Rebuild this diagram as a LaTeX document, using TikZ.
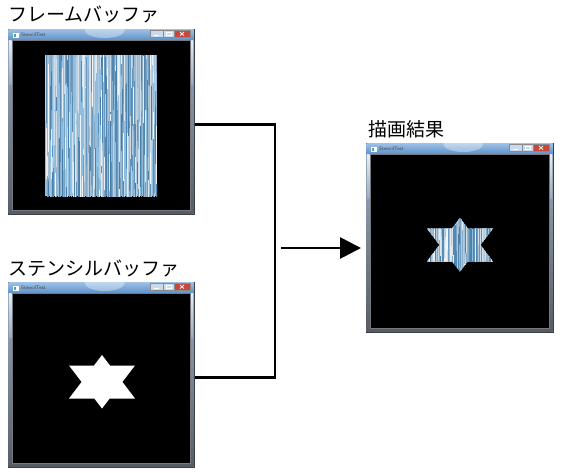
\documentclass[tikz,border=0pt]{standalone}
\usepackage{fontspec}
\newfontfamily\jpfont{Noto Sans CJK JP}
\usetikzlibrary{positioning,arrows.meta}

\definecolor{framelight}{HTML}{9DB2C8}
\definecolor{framedark}{HTML}{3A4048}
\definecolor{titletop}{HTML}{9CC0E6}
\definecolor{titlebot}{HTML}{5E91C8}
\definecolor{texbase}{HTML}{8DBEDF}
\definecolor{texdark}{HTML}{1F6398}
\definecolor{closered}{HTML}{C8463C}
\definecolor{btnblue}{HTML}{C9DAEC}

\tikzset{
  appwin/.style={draw=framedark, line width=1pt, fill=framelight, inner sep=0pt,
    minimum width=186pt, minimum height=185pt, anchor=north west},
  winlabel/.style={anchor=base west, inner sep=0pt, font=\jpfont\fontsize{19}{19}\selectfont},
  titletext/.style={anchor=west, inner sep=0pt, text=black!75, font=\sffamily\fontsize{5}{5}\selectfont},
  link/.style={line width=2.8pt, black},
  starshape/.style={insert path={(0,-27) -- (-33,16.5) -- (33,16.5) -- cycle
    (0,26.5) -- (33,-16.5) -- (-33,-16.5) -- cycle}},
}

% frame, title bar and client area of a window node: name, width, height
\newcommand{\wininside}[3]{%
  \begin{scope}[shift={(#1.north west)}]
    \shade[top color=framelight, bottom color=framedark!85] (0.5,0.5) rectangle (#2-0.5,#3-0.5);
    \shade[top color=titletop, bottom color=titlebot] (0.5,0.5) rectangle (#2-0.5,11);
    \begin{scope}
      \clip (0.5,0.5) rectangle (#2-0.5,11);
      \fill[white, opacity=.35] (#2*0.52,1) ellipse (20 and 8);
    \end{scope}
    \shade[top color=white, bottom color=framelight, opacity=.8] (1,11) rectangle (3.5,55);
    \shade[top color=white, bottom color=framelight, opacity=.8] (#2-3.5,11) rectangle (#2-1,55);
    \fill[black] (4,11) rectangle (#2-4,#3-4);
    \draw[framedark!70, line width=.6pt] (4,11) rectangle (#2-4,#3-4);
    % icon and caption
    \fill[white] (5,3.5) rectangle (11,8.5);
    \fill[teal!70] (6,5) rectangle (8,7.5);
    \node[titletext] (#1-title) at (13,6) {StencilTest};
    % min, max, close
    \filldraw[fill=btnblue, draw=framedark!60, line width=.4pt] (#2-44,1) rectangle (#2-31,8);
    \filldraw[fill=btnblue, draw=framedark!60, line width=.4pt] (#2-31,1) rectangle (#2-20,8);
    \filldraw[fill=closered, draw=framedark!60, line width=.4pt] (#2-20,1) rectangle (#2-4,8);
    \draw[white, line width=.8pt] (#2-40,6) -- (#2-35,6);
    \draw[white, line width=.6pt] (#2-28,3) rectangle (#2-23,6.5);
    \draw[white, line width=.8pt] (#2-14,3) -- (#2-10,6.5) (#2-14,6.5) -- (#2-10,3);
  \end{scope}}

% blue streak texture in a box: x0, y0, x1, y1
\newcommand{\streaks}[4]{%
  \begin{scope}
    \clip (#1,#2) rectangle (#3,#4);
    \fill[texbase] (#1,#2) rectangle (#3,#4);
    \foreach \k in {1,...,600}{
      \pgfmathsetmacro{\sx}{#1+rnd*(#3-#1)}
      \pgfmathsetmacro{\sy}{#2-120+rnd*(#4-#2+120)}
      \pgfmathsetmacro{\sl}{20+rnd*110}
      \pgfmathsetmacro{\sw}{0.2+rnd*0.8}
      \pgfmathtruncatemacro{\sc}{5+rnd*80}
      \draw[line width=\sw pt, texdark!\sc!white] (\sx,\sy) -- (\sx,\sy+\sl);
    }
  \end{scope}}

\begin{document}
\begin{tikzpicture}[x=1pt, y=-1pt]
  \pgfmathsetseed{17}
  \useasboundingbox (0,0) rectangle (563,472);

  \node[appwin] (fb) at (8,29) {};
  \node[appwin] (sb) at (8,282) {};
  \node[appwin, minimum width=187pt, minimum height=189pt] (res) at (366,143) {};
  \wininside{fb}{186}{185}
  \wininside{sb}{186}{185}
  \wininside{res}{187}{189}

  \node[winlabel] (fblabel) at ([yshift=8pt]fb.north west) {フレームバッファ};
  \node[winlabel] (sblabel) at ([yshift=7pt]sb.north west) {ステンシルバッファ};
  \node[winlabel] (reslabel) at ([xshift=2pt, yshift=7pt]res.north west) {描画結果};

  % frame buffer picture
  \begin{scope}[shift={(fb.north west)}]
    \streaks{37}{26}{149}{167}
  \end{scope}
  % stencil star
  \begin{scope}[shift={(sb.north west)}, shift={(94,100)}]
    \fill[white, starshape];
  \end{scope}
  % result: picture seen through the star
  \begin{scope}[shift={(res.north west)}, shift={(94,102)}]
    \clip[starshape];
    \streaks{-34}{-28}{34}{28}
  \end{scope}

  \coordinate (joint) at (275,250);
  \coordinate (arrfrom) at (281,248);
  \coordinate (arrto) at (361,248);
  \draw[link] ([yshift=-2.5pt]fb.east) -| (joint) |- ([yshift=-2.5pt]sb.east);
  \draw[link, -{Triangle[length=21pt, width=21pt]}] (arrfrom) -- (arrto);
\end{tikzpicture}
\end{document}
